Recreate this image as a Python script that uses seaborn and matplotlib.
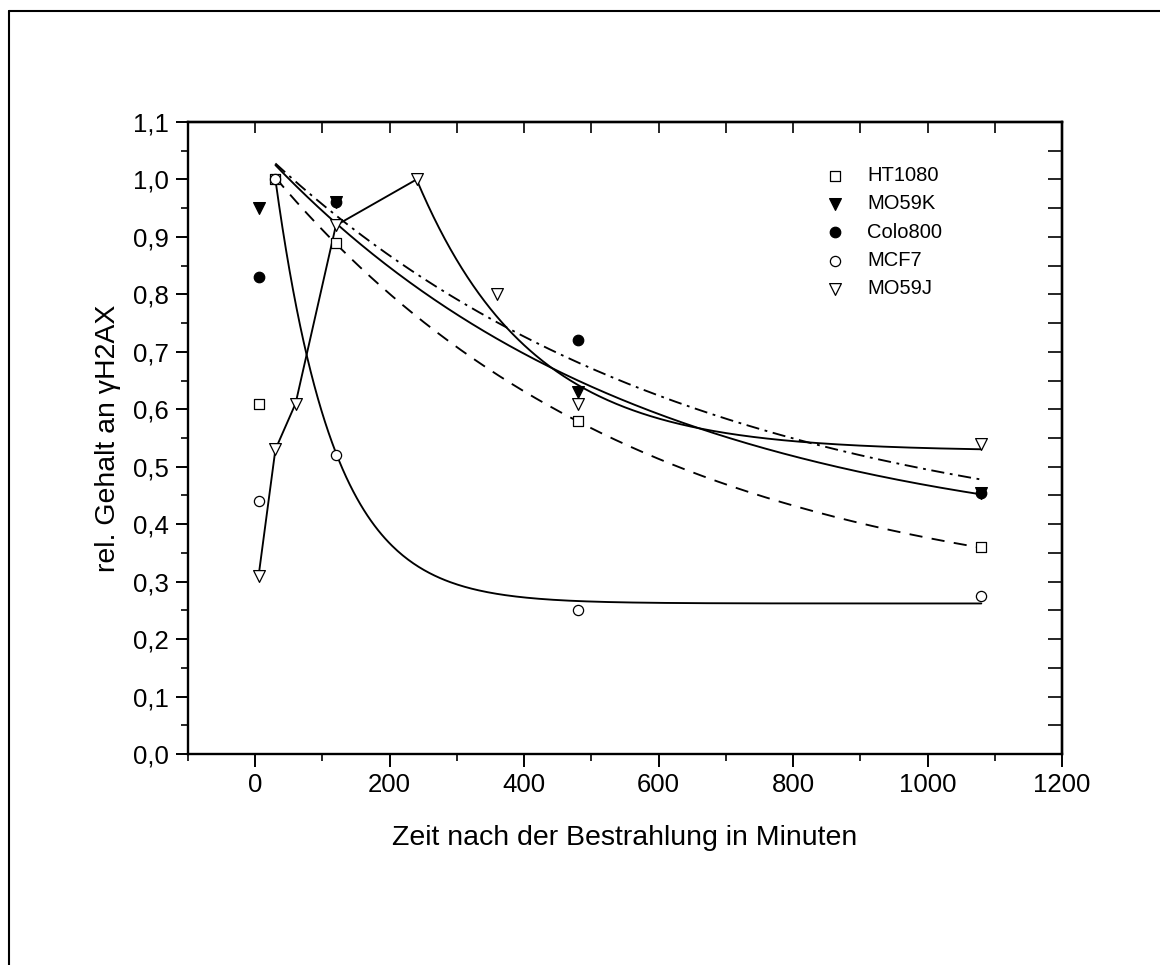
import numpy as np
import pandas as pd
import matplotlib
matplotlib.use("Agg")
import matplotlib.pyplot as plt
from matplotlib.lines import Line2D
from matplotlib.ticker import FixedLocator, MultipleLocator, FuncFormatter
import seaborn as sns

# Measured gamma-H2AX content (relative) at minutes after irradiation
t_ht1080 = [5, 30, 120, 480, 1080]
y_ht1080 = [0.61, 1.00, 0.89, 0.58, 0.36]

t_mo59k = [5, 120, 480, 1080]
y_mo59k = [0.95, 0.96, 0.63, 0.455]

t_colo800 = [5, 120, 480, 1080]
y_colo800 = [0.83, 0.96, 0.72, 0.455]

t_mcf7 = [5, 30, 120, 480, 1080]
y_mcf7 = [0.44, 1.00, 0.52, 0.25, 0.275]

t_mo59j = [5, 30, 60, 120, 240, 360, 480, 1080]
y_mo59j = [0.31, 0.53, 0.61, 0.92, 1.00, 0.80, 0.61, 0.54]

# Exponential decay fits: y = y0 + A * exp(-(t - t0) / tau), from t_start to t_end
fit_ht1080 = dict(y0=0.25, A=0.796, tau=543.0, t0=0.0, t_start=30, t_end=1080)
fit_mo59k = dict(y0=0.35, A=0.7125, tau=555.0, t0=0.0, t_start=30, t_end=1080)
fit_colo800 = dict(y0=0.35, A=0.711, tau=629.0, t0=0.0, t_start=30, t_end=1080)
fit_mcf7 = dict(y0=0.262, A=1.0418, tau=87.0, t0=0.0, t_start=30, t_end=1080)
fit_mo59j = dict(y0=0.527, A=0.473, tau=170.0, t0=240.0, t_start=240, t_end=1080)

x_ticks = [0, 200, 400, 600, 800, 1000, 1200]
y_ticks = [0.0, 0.1, 0.2, 0.3, 0.4, 0.5, 0.6, 0.7, 0.8, 0.9, 1.0, 1.1]


def decay_curve(p, n=400):
    t = np.linspace(p["t_start"], p["t_end"], n)
    return t, p["y0"] + p["A"] * np.exp(-(t - p["t0"]) / p["tau"])


sns.set_style("ticks")
plt.rcParams["font.family"] = ["Liberation Sans", "DejaVu Sans"]
plt.rcParams["text.color"] = "black"
plt.rcParams["axes.labelcolor"] = "black"

fig = plt.figure(figsize=(11.6, 9.65), dpi=100)
fig.patch.set_facecolor("white")
ax = fig.add_axes([188 / 1160, (965 - 754) / 965, 874 / 1160, 632 / 965])
ax.set_facecolor("white")

lw = 1.35
# fitted curves
t, y = decay_curve(fit_ht1080)
sns.lineplot(x=t, y=y, ax=ax, color="black", lw=lw, linestyle=(0, (7, 5)),
             estimator=None, sort=False, zorder=2)
t, y = decay_curve(fit_mo59k)
sns.lineplot(x=t, y=y, ax=ax, color="black", lw=lw, estimator=None, sort=False, zorder=2)
t, y = decay_curve(fit_colo800)
sns.lineplot(x=t, y=y, ax=ax, color="black", lw=lw, linestyle=(0, (7, 3, 1.5, 3)),
             estimator=None, sort=False, zorder=2)
t, y = decay_curve(fit_mcf7)
sns.lineplot(x=t, y=y, ax=ax, color="black", lw=lw, estimator=None, sort=False, zorder=2)

# MO59J: rise connected point to point up to the maximum, then the decay fit
t_peak = fit_mo59j["t_start"]
rise_t = [tt for tt in t_mo59j if tt <= t_peak]
rise_y = [yy for tt, yy in zip(t_mo59j, y_mo59j) if tt <= t_peak]
td, yd = decay_curve(fit_mo59j)
mo59j_line = pd.DataFrame({"t": np.concatenate([rise_t, td[1:]]),
                           "y": np.concatenate([rise_y, yd[1:]])})
sns.lineplot(data=mo59j_line, x="t", y="y", ax=ax, color="black", lw=lw,
             estimator=None, sort=False, zorder=2)

# data points
ew = 0.9
sns.scatterplot(x=t_ht1080, y=y_ht1080, ax=ax, marker="s", s=50, facecolor="white",
                edgecolor="black", linewidth=ew, zorder=3, label="HT1080")
sns.scatterplot(x=t_mo59k, y=y_mo59k, ax=ax, marker="v", s=72, facecolor="black",
                edgecolor="black", linewidth=ew, zorder=3, label="MO59K")
sns.scatterplot(x=t_colo800, y=y_colo800, ax=ax, marker="o", s=57, facecolor="black",
                edgecolor="black", linewidth=ew, zorder=3, label="Colo800")
sns.scatterplot(x=t_mcf7, y=y_mcf7, ax=ax, marker="o", s=54, facecolor="white",
                edgecolor="black", linewidth=ew, zorder=3, label="MCF7")
sns.scatterplot(x=t_mo59j, y=y_mo59j, ax=ax, marker="v", s=72, facecolor="white",
                edgecolor="black", linewidth=ew, zorder=3, label="MO59J")

ax.set_xlim(-100, 1200)
ax.set_ylim(0, 1.1)

ax.xaxis.set_major_locator(FixedLocator(x_ticks))
ax.xaxis.set_minor_locator(FixedLocator(list(range(-100, 1200, 200))))
ax.yaxis.set_major_locator(FixedLocator(y_ticks))
ax.yaxis.set_minor_locator(MultipleLocator(0.05))
ax.yaxis.set_major_formatter(FuncFormatter(lambda v, _: f"{v:.1f}".replace(".", ",")))
ax.xaxis.set_major_formatter(FuncFormatter(lambda v, _: f"{v:.0f}"))

ax.tick_params(which="major", direction="out", length=9, width=1.4,
               labelsize=18.5, pad=5, color="black", labelcolor="black")
ax.tick_params(which="minor", direction="out", length=5, width=1.4)
ax.tick_params(top=False, right=False, which="both")

for sp in ax.spines.values():
    sp.set_visible(True)
    sp.set_linewidth(1.7)
    sp.set_color("black")

# mirrored inward ticks on top and right
top = ax.secondary_xaxis("top")
top.xaxis.set_major_locator(FixedLocator(list(range(-100, 1201, 100))))
top.tick_params(direction="in", length=8, width=1.4, labeltop=False)
top.spines["top"].set_linewidth(1.7)
right = ax.secondary_yaxis("right")
right.yaxis.set_major_locator(MultipleLocator(0.05))
right.tick_params(direction="in", length=10, width=1.4, labelright=False)
right.spines["right"].set_linewidth(1.7)

ax.set_xlabel("Zeit nach der Bestrahlung in Minuten", fontsize=20.5, color="black")
ax.set_ylabel("rel. Gehalt an γH2AX", fontsize=20.5, color="black")
ax.xaxis.set_label_coords(0.5, -0.112)
ax.yaxis.set_label_coords(-0.077, 0.5)

leg = ax.legend(loc="upper left", bbox_to_anchor=(825 / 1160, 1 - 166 / 965),
                bbox_transform=fig.transFigure, frameon=False, fontsize=14.5,
                handlelength=1.0, handletextpad=1.1, labelspacing=0.46,
                borderpad=0, borderaxespad=0, scatterpoints=1)
for txt in leg.get_texts():
    txt.set_color("black")

# outer frame lines
fig.add_artist(Line2D([9 / 1160, 9 / 1160], [0, 1 - 11 / 965], transform=fig.transFigure,
                      color="black", lw=1.5))
fig.add_artist(Line2D([9 / 1160, 1], [1 - 11 / 965, 1 - 11 / 965], transform=fig.transFigure,
                      color="black", lw=1.5))

fig.savefig("out.png", dpi=100, facecolor="white")
